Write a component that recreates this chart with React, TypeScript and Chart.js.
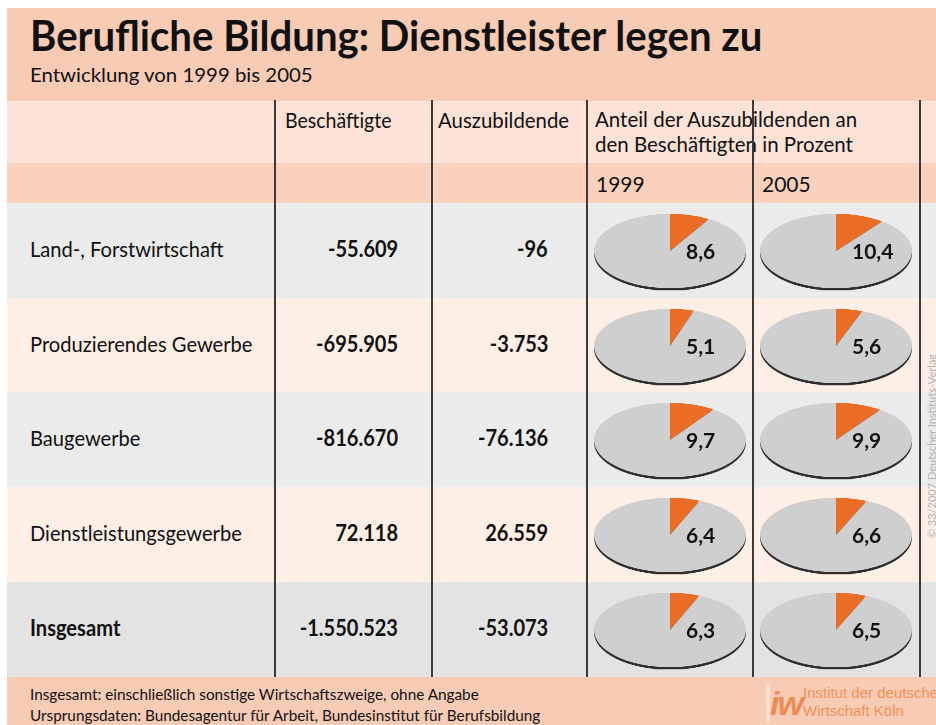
import React, { useEffect, useRef } from 'react';
import { Chart, registerables } from 'chart.js';

Chart.register(...registerables);

// ---- data ----
const title = 'Berufliche Bildung: Dienstleister legen zu';
const subtitle = 'Entwicklung von 1999 bis 2005';
const sectors = ['Land-, Forstwirtschaft', 'Produzierendes Gewerbe', 'Baugewerbe', 'Dienstleistungsgewerbe', 'Insgesamt'];
const employees = [-55609, -695905, -816670, 72118, -1550523];
const apprentices = [-96, -3753, -76136, 26559, -53073];
const years = ['1999', '2005'];
const share1999 = [8.6, 5.1, 9.7, 6.4, 6.3];
const share2005 = [10.4, 5.6, 9.9, 6.6, 6.5];
const footnotes = [
  'Insgesamt: einschließlich sonstige Wirtschaftszweige, ohne Angabe',
  'Ursprungsdaten: Bundesagentur für Arbeit, Bundesinstitut für Berufsbildung',
];

// ---- style ----
const FONT = "Lato, 'Noto Sans', sans-serif";
const ORANGE = '#ea6c25';
const GRAY = '#cfcfcf';
const ROW_TOPS = [203, 298, 392, 487, 582];
const ROW_H = 95;
const ROW_BG = ['#ebebeb', '#fdeee6', '#ebebeb', '#fdeee6', '#e3e3e3'];
const LINES_X = [275, 432, 587, 753, 920];
const PIE_CX = [670, 836];

const fmtInt = (v: number) => new Intl.NumberFormat('de-DE').format(v);
const fmtPct = (v: number) => v.toLocaleString('de-DE', { minimumFractionDigits: 1, maximumFractionDigits: 1 });

const shadowPlugin = {
  id: 'pieShadow',
  beforeDatasetsDraw(chart: any) {
    const arc = chart.getDatasetMeta(0).data[0];
    if (!arc) return;
    const { x, y, outerRadius } = arc.getProps(['x', 'y', 'outerRadius'], true);
    const ctx = chart.ctx;
    ctx.save();
    ctx.fillStyle = '#2e2e2e';
    ctx.beginPath();
    ctx.arc(x, y + 5, outerRadius, 0, Math.PI * 2);
    ctx.fill();
    ctx.restore();
  },
};

function Pie({ value, cx, cy }: { value: number; cx: number; cy: number }) {
  const ref = useRef<HTMLCanvasElement>(null);
  useEffect(() => {
    const chart = new Chart(ref.current as HTMLCanvasElement, {
      type: 'pie',
      data: {
        labels: ['Anteil', 'Rest'],
        datasets: [
          {
            data: [value, 100 - value],
            backgroundColor: [ORANGE, GRAY],
            borderWidth: 0,
            radius: 76,
          } as any,
        ],
      },
      options: {
        responsive: false,
        animation: false,
        events: [],
        layout: { padding: 0 },
        plugins: { legend: { display: false }, tooltip: { enabled: false } },
      },
      plugins: [shadowPlugin],
    });
    return () => chart.destroy();
  }, [value]);
  return (
    <>
      <div
        style={{
          position: 'absolute',
          left: cx - 80,
          top: cy - 80,
          width: 160,
          height: 160,
          transform: 'scaleY(0.49)',
          transformOrigin: '50% 50%',
        }}
      >
        <canvas ref={ref} width={160} height={160} style={{ display: 'block' }} />
      </div>
      <T x={cx + 16} base={cy + 7} size={21} weight={700}>
        {fmtPct(value)}
      </T>
    </>
  );
}

function T({
  x,
  base,
  size,
  weight = 400,
  color = '#111',
  align = 'left',
  sx = 1,
  children,
}: {
  x: number;
  base: number;
  size: number;
  weight?: number;
  color?: string;
  align?: 'left' | 'right';
  sx?: number;
  children: React.ReactNode;
}) {
  const top = base - 0.85 * size;
  const style: React.CSSProperties = {
    position: 'absolute',
    top,
    fontFamily: FONT,
    fontSize: size,
    lineHeight: 1,
    fontWeight: weight,
    color,
    whiteSpace: 'nowrap',
    transform: sx !== 1 ? `scaleX(${sx})` : undefined,
    transformOrigin: align === 'right' ? '100% 50%' : '0 50%',
  };
  if (align === 'right') style.right = 936 - x;
  else style.left = x;
  return <div style={style}>{children}</div>;
}

export default function App() {
  return (
    <div style={{ position: 'relative', width: 936, height: 725, overflow: 'hidden', background: '#fff' }}>
      <style>{'body{margin:0}'}</style>
      {/* backgrounds */}
      <div style={{ position: 'absolute', left: 7, top: 8, width: 929, height: 93, background: '#f8cbb5' }} />
      <div style={{ position: 'absolute', left: 7, top: 101, width: 929, height: 62, background: '#fde3d7' }} />
      <div style={{ position: 'absolute', left: 7, top: 163, width: 929, height: 40, background: '#f9d1bd' }} />
      {ROW_TOPS.map((t, i) => (
        <div
          key={'bg' + i}
          style={{ position: 'absolute', left: 7, top: t, width: 929, height: ROW_H, background: ROW_BG[i] }}
        />
      ))}
      <div style={{ position: 'absolute', left: 7, top: 677, width: 929, height: 48, background: '#f8cbb5' }} />

      {/* title */}
      <T x={30} base={50} size={42} weight={700} sx={0.956}>
        {title}
      </T>
      <T x={30} base={81} size={20} sx={1.02}>
        {subtitle}
      </T>

      {/* header */}
      <T x={285} base={127} size={21} sx={0.93}>
        Beschäftigte
      </T>
      <T x={438} base={127} size={21} sx={0.97}>
        Auszubildende
      </T>
      <T x={595} base={126} size={21} sx={0.975}>
        Anteil der Auszubildenden an
      </T>
      <T x={595} base={151} size={21} sx={0.975}>
        den Beschäftigten in Prozent
      </T>
      {years.map((y, i) => (
        <T key={y} x={[596, 762][i]} base={191} size={21}>
          {y}
        </T>
      ))}

      {/* rows */}
      {sectors.map((s, i) => {
        const cy = ROW_TOPS[i] + ROW_H / 2;
        return (
          <React.Fragment key={s}>
            <T x={30} base={cy + 6} size={22} weight={i === 4 ? 700 : 400} sx={0.915}>
              {s}
            </T>
            <T x={398} base={cy + 6} size={22} weight={700} align="right" sx={0.91}>
              {fmtInt(employees[i])}
            </T>
            <T x={548} base={cy + 6} size={22} weight={700} align="right" sx={0.91}>
              {fmtInt(apprentices[i])}
            </T>
            <Pie value={share1999[i]} cx={PIE_CX[0]} cy={cy} />
            <Pie value={share2005[i]} cx={PIE_CX[1]} cy={cy} />
          </React.Fragment>
        );
      })}

      {/* vertical lines */}
      {LINES_X.map((x) => (
        <div key={'l' + x} style={{ position: 'absolute', left: x - 1, top: 100, width: 2, height: 577, background: '#3a3a3a' }} />
      ))}

      {/* copyright */}
      <div
        style={{
          position: 'absolute',
          left: 931,
          top: 446,
          transform: 'translate(-50%, -50%) rotate(-90deg)',
          fontFamily: FONT,
          fontSize: 11,
          lineHeight: 1,
          color: '#b4b4b4',
          whiteSpace: 'nowrap',
        }}
      >
        © 33/2007 Deutscher Instituts-Verlag
      </div>

      {/* footer */}
      <T x={30} base={700} size={16} sx={0.957}>
        {footnotes[0]}
      </T>
      <T x={30} base={721} size={16} sx={0.957}>
        {footnotes[1]}
      </T>
      <div style={{ position: 'absolute', left: 766, top: 684, width: 4, height: 38, background: '#fbe0d2' }} />
      <div
        style={{
          position: 'absolute',
          left: 770,
          top: 686,
          fontFamily: "'Liberation Sans', sans-serif",
          fontWeight: 700,
          fontStyle: 'italic',
          fontSize: 34,
          lineHeight: 1,
          color: '#ee8a55',
          letterSpacing: -2,
        }}
      >
        iw
      </div>
      <T x={803} base={698} size={15} color="#ef915e">
        <span style={{ fontFamily: "'Liberation Sans', sans-serif" }}>Institut der deutschen</span>
      </T>
      <T x={803} base={716} size={15} color="#ef915e">
        <span style={{ fontFamily: "'Liberation Sans', sans-serif" }}>Wirtschaft Köln</span>
      </T>
    </div>
  );
}
